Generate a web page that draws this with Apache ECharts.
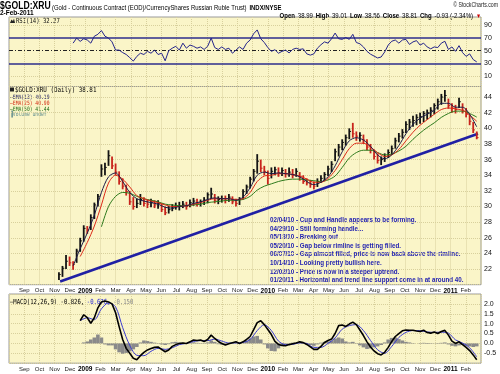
<!DOCTYPE html>
<html><head><meta charset="utf-8">
<script src="https://cdn.jsdelivr.net/npm/echarts@6/dist/echarts.min.js"></script>
<style>html,body{margin:0;padding:0;background:#fff}#c{width:500px;height:374px}</style>
</head><body><div id="c"></div>
<script>
// ---------------- DATA ----------------
// x unit = months, 0 = Jan 2009 ; axis runs Aug 2008 (-5) .. Mar 2011 (26)
const monthLabels = ['Aug','Sep','Oct','Nov','Dec','2009','Feb','Mar','Apr','May','Jun','Jul','Aug','Sep','Oct','Nov','Dec','2010','Feb','Mar','Apr','May','Jun','Jul','Aug','Sep','Oct','Nov','Dec','2011','Feb','Mar'];
const dataStart = -1.72, dataEnd = 25.72;   // first / last trading week (months)

// weekly bars
const priceLow = [20.6,21.0,22.0,22.4,21.9,22.8,24.2,25.5,26.5,27.0,
 28.4,30.0,33.8,34.0,35.2,34.8,34.0,32.8,32.2,31.4,
 30.2,29.6,29.8,30.2,30.0,29.8,29.9,29.8,29.7,29.3,
 28.9,29.1,29.4,29.6,29.5,29.8,29.6,29.9,30.1,30.0,
 30.0,30.2,30.4,31.0,30.4,30.3,30.5,30.4,30.6,30.3,
 30.0,30.2,30.9,31.6,32.3,33.2,34.2,34.4,34.0,32.8,
 33.6,34.0,33.8,33.9,33.7,33.8,33.6,33.8,33.3,32.9,
 32.7,32.4,32.2,32.5,33.0,33.3,33.9,34.4,35.8,36.4,
 37.2,37.8,38.6,38.8,38.4,38.3,38.0,37.2,36.8,36.0,
 35.5,35.3,35.7,36.2,36.6,37.4,38.2,38.7,39.4,39.8,
 40.2,40.4,40.6,40.8,41.1,41.4,41.8,42.4,43.0,43.4,
 42.5,42.0,41.9,42.6,41.9,41.4,40.4,39.4,38.6];
const priceHigh = [21.6,22.4,23.8,23.6,23.0,24.6,26.0,27.6,27.5,29.0,
 30.5,31.6,35.4,35.6,37.2,36.4,35.5,34.5,33.6,32.8,
 32.0,31.2,31.0,31.6,31.2,30.9,31.0,30.8,30.8,30.4,
 30.0,30.1,30.3,30.5,30.6,30.7,30.6,30.9,31.1,31.0,
 30.9,31.2,31.8,32.4,31.6,31.3,31.4,31.4,31.6,31.3,
 31.0,31.2,32.2,32.8,33.8,34.8,36.7,36.0,35.2,34.6,
 35.0,35.1,35.0,35.0,34.8,35.0,34.8,34.9,34.4,34.0,
 33.6,33.4,33.2,33.6,34.0,34.4,35.2,35.8,37.4,38.0,
 38.6,39.2,40.0,40.7,39.6,39.5,39.2,38.6,38.0,37.3,
 36.8,36.4,36.8,37.3,37.8,38.8,39.4,39.9,40.9,41.2,
 41.6,41.8,42.0,42.2,42.4,42.7,43.2,43.8,44.4,44.9,
 43.8,43.2,43.0,43.9,43.2,42.6,41.8,40.8,39.6];
const priceClose = [21.3,22.1,23.0,22.8,22.6,24.3,25.6,27.2,27.0,28.6,
 30.2,31.3,34.8,35.0,36.5,35.2,34.4,33.2,32.6,31.9,
 30.6,30.0,30.4,30.9,30.4,30.3,30.5,30.2,30.4,29.6,
 29.2,29.6,29.8,30.0,30.1,30.3,30.0,30.5,30.7,30.4,
 30.6,30.8,31.5,31.6,30.8,30.9,31.0,30.8,31.2,30.6,
 30.4,30.9,31.9,32.5,33.5,34.5,35.8,34.9,34.5,33.6,
 34.5,34.7,34.3,34.6,34.2,34.4,34.0,34.5,33.8,33.2,
 33.0,32.8,32.6,33.2,33.6,34.1,34.8,35.4,37.0,37.6,
 38.2,38.8,39.6,39.3,39.0,39.1,38.5,37.6,37.2,36.4,
 35.9,36.0,36.4,36.9,37.4,38.4,39.0,39.5,40.5,40.8,
 41.0,41.4,41.5,41.9,42.0,42.3,42.9,43.4,44.0,44.2,
 42.9,42.6,42.4,43.4,42.3,41.8,40.9,39.8,38.81];

// moving averages, every two weeks
const ema13 = [null,null,22.4,24.6,26.6,28.9,31.8,33.8,34.3,33.2,
 31.8,31.0,30.7,30.5,30.3,29.9,29.8,30.0,30.1,30.4,
 30.6,30.9,31.1,31.0,31.0,30.8,31.2,32.4,34.0,34.4,
 34.2,34.3,34.2,34.1,33.8,33.2,32.8,33.1,33.8,35.2,
 37.0,38.4,38.8,38.5,37.7,36.6,36.1,36.6,37.8,39.3,
 40.5,41.3,41.8,42.3,43.2,43.2,42.7,42.7,41.8,40.19];
const ema25 = [null,null,null,23.6,25.4,27.5,30.2,33.0,34.0,33.5,
 32.5,31.4,31.0,30.7,30.5,30.2,30.0,30.0,30.1,30.3,
 30.5,30.8,31.0,31.0,31.0,30.9,31.0,31.8,33.2,33.9,
 34.0,34.2,34.2,34.1,33.9,33.5,33.1,33.1,33.6,34.6,
 36.0,37.4,38.1,38.1,37.6,36.9,36.4,36.6,37.3,38.4,
 39.5,40.4,41.1,41.8,42.4,42.6,42.5,42.3,41.7,40.90];
const ema50 = [null,null,null,null,null,null,27.4,30.0,31.3,31.8,
 31.7,31.3,31.0,30.8,30.6,30.3,30.2,30.1,30.1,30.2,
 30.3,30.5,30.6,30.7,30.8,30.8,30.9,31.3,32.1,32.6,
 32.9,33.2,33.4,33.5,33.5,33.4,33.3,33.2,33.4,33.9,
 35.0,36.2,36.9,37.2,37.2,36.9,36.6,36.7,37.1,37.7,
 38.6,39.4,40.1,40.7,41.4,41.9,42.2,42.2,41.9,41.44];

// trend line (two anchor points: month, price)
const trendDates = [-1.64, 25.8];
const trendValues = [20.4, 39.3];

// RSI(14), weekly
const rsi14 = [null,null,null,null,62,70,64.8,69,67,62,
 73,76,82,73,70,64,51,51,47,44,
 39,33.5,41,46,44,49,46,51,44,46,
 34,50,54,57,51,62,54,59,57,54,
 56,52,57,70,55,52,56,52,54,46,
 51,56,52,62,67,77,83,69,63,55,
 49,51.6,46,49,51,46.5,52,54,52,53,
 45,43,45,54,59.5,64,62,69,78,69,
 68,71,68,76,63,61,56,49,44.5,41.5,
 38.5,40,48,59,65,67,62,67,68,60,
 64,66,59,62,56,53,56,55,62,65,
 52,56,49,58,47,41,45,36,32.27];
const rsiTicks = [10, 30, 50, 70, 90];

// MACD(12,26,9)
const macdLine = [null,null,null,null,null,null,1.15,1.45,1.3,1.02,
 1.3,1.8,2.1,2.15,2.1,2.0,1.55,0.85,0.2,-0.25,
 -0.5,-0.75,-0.82,-0.62,-0.45,-0.33,-0.26,-0.2,-0.18,-0.3,
 -0.42,-0.33,-0.15,-0.06,0.0,0.02,0.0,0.08,0.17,0.15,
 0.17,0.1,0.2,0.42,0.25,0.1,0.0,-0.08,-0.02,0.03,
 0.08,0.0,0.08,0.2,0.35,0.7,1.05,1.15,0.95,0.7,
 0.45,0.1,-0.05,-0.1,-0.12,-0.06,-0.02,0.02,0.08,0.04,
 -0.05,-0.17,-0.3,-0.3,-0.15,0.05,0.15,0.22,0.5,0.9,
 0.93,0.86,0.98,1.08,0.95,0.68,0.4,0.08,-0.18,-0.38,
 -0.52,-0.58,-0.45,-0.2,0.1,0.35,0.5,0.64,0.68,0.67,
 0.67,0.63,0.6,0.67,0.55,0.52,0.58,0.5,0.6,0.66,
 0.42,0.12,0.0,0.08,-0.06,-0.2,-0.36,-0.58,-0.826];
const macdSignal = [null,null,null,1.15,1.3,1.2,1.75,2.05,1.85,0.8,
 -0.1,-0.6,-0.62,-0.4,-0.25,-0.3,-0.22,-0.06,0.0,0.1,
 0.14,0.14,0.22,0.12,0.02,0.03,0.05,0.2,0.65,0.95,
 0.65,0.12,-0.06,-0.05,0.03,0.0,-0.2,-0.2,0.0,0.28,
 0.72,0.9,0.95,0.65,0.15,-0.32,-0.5,-0.15,0.3,0.56,
 0.65,0.64,0.58,0.56,0.57,0.52,0.18,0.02,-0.22,-0.676];
const macdHist = [null,null,null,null,null,null,null,0.05,0.1,0.2,
 0.3,0.45,0.3,-0.05,-0.1,-0.1,-0.3,-0.45,-0.52,-0.48,
 -0.4,-0.3,-0.18,0.05,0.15,0.12,0.08,0.04,0.02,-0.05,
 -0.08,-0.04,0.06,0.08,0.05,0.04,0.02,0.05,0.06,0.03,
 0.02,-0.02,0.05,0.15,0.08,-0.04,-0.06,-0.07,-0.03,0.02,
 0.03,0.02,0.05,0.12,0.25,0.35,0.38,0.2,-0.05,-0.25,
 -0.38,-0.4,-0.25,-0.12,-0.05,0.02,0.04,0.05,0.06,0.02,
 -0.04,-0.08,-0.12,-0.05,0.04,0.08,0.1,0.15,0.25,0.3,
 0.25,0.1,0.05,0.08,0.02,-0.1,-0.2,-0.28,-0.25,-0.2,
 -0.15,-0.08,0.05,0.2,0.28,0.3,0.22,0.15,0.08,0.05,
 0.02,0.0,-0.02,0.03,-0.03,-0.02,0.01,-0.02,0.03,0.05,
 -0.05,-0.12,-0.15,-0.1,-0.08,-0.12,-0.15,-0.18,-0.150];

// last daily bar (header)
const lastBar = {open: '38.99', high: '39.01', low: '38.56', close: '38.81', chg: '-0.93', chgPct: '-2.34%'};

const notes = [
 '02/04/10 - Cup and Handle appears to be forming.',
 '04/29/10 - Still forming handle...',
 '05/13/10 - Breaking out',
 '05/20/10 - Gap below rimline is getting filled.',
 '06/07/10 - Gap almost filled, price is now back above the rimline.',
 '10/14/10 - Looking pretty bullish here.',
 '12/02/10 - Price is now in a steeper uptrend.',
 '01/20/11 - Horizontal and trend line support come in at around 40.'
];

// ---------------- BUILD ----------------
const weekX = i => dataStart + i * (dataEnd - dataStart) / (priceClose.length - 1);
const biX = j => dataStart + j * (dataEnd - dataStart) / (ema13.length - 1);
const pts = (arr, fx) => arr.map((v, i) => [fx(i), v]).filter(d => d[1] != null);
const last = a => a[a.length - 1];

const priceData = priceClose.map((c, i) => [weekX(i), priceLow[i], priceHigh[i], c, (i > 0 && c < priceClose[i - 1]) ? 1 : 0]);

const BG = '#faf5c8', GRIDC = '#d8d09c', BORDER = '#9a9a9a';
const FONT = '"Liberation Sans", Arial, sans-serif';
const MONO = '"DejaVu Sans Mono", monospace';

function xAxis(gi, showLabels) {
  return {
    type: 'value', gridIndex: gi, min: -5, max: 26, interval: 1,
    axisLine: {show: false}, axisTick: {show: false},
    splitLine: {show: true, lineStyle: {color: GRIDC, type: 'dotted', width: 1}},
    axisLabel: {
      show: showLabels, showMinLabel: false, showMaxLabel: false, margin: 3,
      fontSize: 6, color: '#222', fontFamily: FONT,
      formatter: v => { const s = monthLabels[Math.round(v) + 5] || ''; return /^\d+$/.test(s) ? '{y|' + s + '}' : s; },
      rich: {y: {fontWeight: 'bold', fontSize: 6.5, color: '#000', fontFamily: FONT}}
    }
  };
}
const yLabel = {fontSize: 7, color: '#111', fontFamily: FONT, margin: 3};

const option = {
  animation: false,
  backgroundColor: '#ffffff',
  grid: [
    {left: 9, right: 19, top: 17, height: 69.5, show: true, backgroundColor: BG, borderColor: BORDER, borderWidth: 1},
    {left: 9, right: 19, top: 86.5, height: 198.2, show: true, backgroundColor: BG, borderColor: BORDER, borderWidth: 1},
    {left: 9, right: 19, top: 294, height: 69.2, show: true, backgroundColor: BG, borderColor: BORDER, borderWidth: 1}
  ],
  xAxis: [xAxis(0, false), xAxis(1, true), xAxis(2, true)],
  yAxis: [
    {type: 'value', gridIndex: 0, position: 'right', min: -6.8, max: 103.5,
     axisLine: {show: false}, axisTick: {show: false}, splitLine: {show: false},
     axisLabel: Object.assign({customValues: rsiTicks}, yLabel)},
    {type: 'value', gridIndex: 1, position: 'right', min: 20, max: 45.35, interval: 2,
     axisLine: {show: false}, axisTick: {show: false},
     splitLine: {show: true, lineStyle: {color: GRIDC, type: 'dotted'}},
     axisLabel: Object.assign({showMinLabel: false, showMaxLabel: false}, yLabel)},
    {type: 'value', gridIndex: 2, position: 'right', min: -1, max: 2.5, interval: 0.5,
     axisLine: {show: false}, axisTick: {show: false},
     splitLine: {show: true, lineStyle: {color: GRIDC, type: 'dotted'}},
     axisLabel: Object.assign({showMinLabel: false, showMaxLabel: false, formatter: v => v.toFixed(1)}, yLabel)}
  ],
  series: [
    // RSI
    {type: 'line', xAxisIndex: 0, yAxisIndex: 0, data: pts(rsi14, weekX), symbol: 'none',
     lineStyle: {color: '#23238a', width: 1}, z: 5,
     markLine: {silent: true, symbol: 'none', label: {show: false},
       data: [
         {yAxis: rsiTicks[0], lineStyle: {color: GRIDC, type: 'dotted', width: 1}},
         {yAxis: rsiTicks[4], lineStyle: {color: GRIDC, type: 'dotted', width: 1}},
         {yAxis: rsiTicks[1], lineStyle: {color: '#2c2c8c', type: 'solid', width: 1.6}},
         {yAxis: rsiTicks[3], lineStyle: {color: '#2c2c8c', type: 'solid', width: 1.6}},
         {yAxis: rsiTicks[2], lineStyle: {color: '#222', type: [4, 2, 1, 2], width: 1}}
       ]}},
    // trend line
    {type: 'line', xAxisIndex: 1, yAxisIndex: 1, data: trendDates.map((d, i) => [d, trendValues[i]]),
     symbol: 'none', lineStyle: {color: '#2020a4', width: 2.6}, z: 3},
    // EMAs
    {type: 'line', xAxisIndex: 1, yAxisIndex: 1, data: pts(ema50, biX), symbol: 'none', smooth: 0.3,
     lineStyle: {color: '#2e7a1c', width: 1}, z: 6},
    {type: 'line', xAxisIndex: 1, yAxisIndex: 1, data: pts(ema25, biX), symbol: 'none', smooth: 0.3,
     lineStyle: {color: '#dc2a18', width: 1}, z: 6},
    {type: 'line', xAxisIndex: 1, yAxisIndex: 1, data: pts(ema13, biX), symbol: 'none', smooth: 0.3,
     lineStyle: {color: '#1c1c48', width: 1}, z: 6},
    // price bars
    {type: 'custom', xAxisIndex: 1, yAxisIndex: 1, data: priceData, z: 5,
     encode: {x: 0, y: [1, 2, 3]},
     renderItem: (params, api) => {
       const x = api.value(0);
       const lo = api.coord([x, api.value(1)]);
       const hi = api.coord([x, api.value(2)]);
       const cl = api.coord([x, api.value(3)]);
       const col = api.value(4) ? '#c8241c' : '#141414';
       return {type: 'group', children: [
         {type: 'line', shape: {x1: lo[0], y1: lo[1], x2: hi[0], y2: hi[1]}, style: {stroke: col, lineWidth: 1.8}},
         {type: 'line', shape: {x1: cl[0], y1: cl[1], x2: cl[0] + 1.8, y2: cl[1]}, style: {stroke: col, lineWidth: 1}}
       ]};
     }},
    // MACD
    {type: 'bar', xAxisIndex: 2, yAxisIndex: 2, data: pts(macdHist, weekX), barWidth: 3.6,
     itemStyle: {color: '#8a8a8a'}, z: 3},
    {type: 'line', xAxisIndex: 2, yAxisIndex: 2, data: pts(macdSignal, biX), symbol: 'none', smooth: 0.3,
     lineStyle: {color: '#3a3ad0', width: 1}, z: 5},
    {type: 'line', xAxisIndex: 2, yAxisIndex: 2, data: pts(macdLine, weekX), symbol: 'none',
     lineStyle: {color: '#000', width: 1.6}, z: 6}
  ],
  graphic: [
    {type: 'text', x: 0, y: 1, scaleX: 0.86, style: {text: '$GOLD:XRU', font: 'bold 10px ' + FONT, fill: '#000'}},
    {type: 'text', x: 52, y: 2.5, scaleX: 0.85, style: {
      text: '{n|(Gold - Continuous Contract (EOD)/CurrencyShares Russian Ruble Trust)} {b|INDX/NYSE}',
      rich: {n: {font: '7px ' + FONT, fill: '#000'}, b: {font: 'bold 7px ' + FONT, fill: '#000'}}}},
    {type: 'text', x: 498, y: 2, scaleX: 0.8, style: {text: '\u00a9 StockCharts.com', font: '6.5px ' + FONT, fill: '#222', align: 'right'}},
    {type: 'text', x: 0, y: 10, style: {text: '2-Feb-2011', font: 'bold 6.5px ' + FONT, fill: '#000'}},
    {type: 'text', x: 481, y: 10, scaleX: 0.86, style: {
      align: 'right',
      text: '{b|Open} {n|' + lastBar.open + '} {b|High} {n|' + lastBar.high + '} {b|Low} {n|' + lastBar.low + '} {b|Close} {n|' + lastBar.close + '} {b|Chg} {n|' + lastBar.chg + ' (' + lastBar.chgPct + ')} {r|\u25bc}',
      rich: {b: {font: 'bold 7px ' + FONT, fill: '#000'}, n: {font: '7px ' + FONT, fill: '#000'}, r: {font: '6px ' + FONT, fill: '#c00'}}}},
    // RSI legend
    {type: 'polygon', shape: {points: [[10, 23], [11.5, 19.5], [13, 21], [14, 18.5], [15, 23]]}, style: {fill: '#222'}},
    {type: 'text', x: 16, y: 17.5, scaleX: 0.8, style: {text: 'RSI(14) ' + last(rsi14).toFixed(2), font: '7px ' + MONO, fill: '#111'}},
    // price legend
    {type: 'rect', shape: {x: 10, y: 87.5, width: 4, height: 4}, style: {fill: '#222'}},
    {type: 'text', x: 15, y: 86.8, scaleX: 0.84, style: {text: '$GOLD:XRU (Daily) ' + last(priceClose).toFixed(2), font: '7px ' + MONO, fill: '#000'}},
    {type: 'text', x: 10, y: 94, scaleX: 0.78, style: {text: '\u2014EMA(13) ' + last(ema13).toFixed(2), font: '6px ' + MONO, fill: '#14145a'}},
    {type: 'text', x: 10, y: 100, scaleX: 0.78, style: {text: '\u2014EMA(25) ' + last(ema25).toFixed(2), font: '6px ' + MONO, fill: '#d02810'}},
    {type: 'text', x: 10, y: 106, scaleX: 0.78, style: {text: '\u2014EMA(50) ' + last(ema50).toFixed(2), font: '6px ' + MONO, fill: '#1e6a14'}},
    {type: 'text', x: 10, y: 111.8, scaleX: 0.78, style: {text: '\u2590Volume undef', font: '6px ' + MONO, fill: '#5f8c8c'}},
    // annotations
    {type: 'text', x: 270, y: 215.6, scaleX: 0.78, style: {text: notes.join('\n'), font: 'bold 8px ' + FONT, fill: '#1c1cb0', lineHeight: 8.57}},
    // MACD legend
    {type: 'text', x: 10, y: 296, scaleX: 0.8, style: {
      text: '{k|\u2014MACD(12,26,9) ' + last(macdLine).toFixed(3) + ',} {s|' + last(macdSignal).toFixed(3) + ',} {h|' + last(macdHist).toFixed(3) + '}',
      rich: {k: {font: '7px ' + MONO, fill: '#000'}, s: {font: '7px ' + MONO, fill: '#2a2ad0'}, h: {font: '7px ' + MONO, fill: '#888'}}}}
  ]
};
const chart = echarts.init(document.getElementById('c'));
chart.setOption(option);
</script></body></html>
